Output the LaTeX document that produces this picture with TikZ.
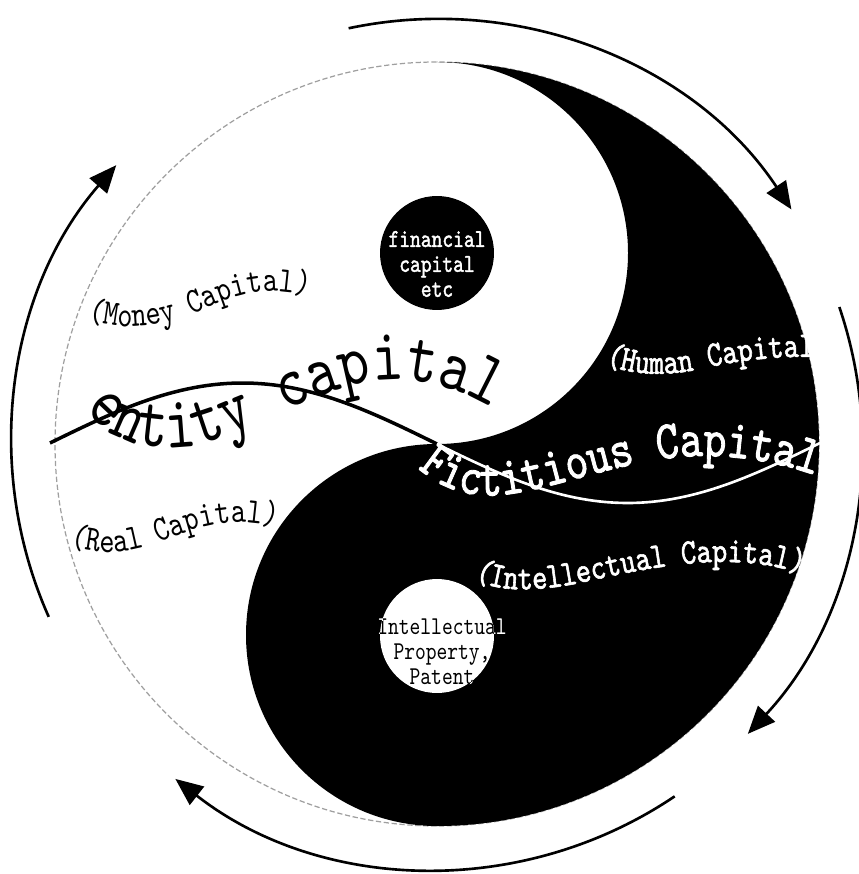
\documentclass[tikz,border=0pt]{standalone}
\usepackage{fontspec}
\usepackage{tikz}
\usetikzlibrary{arrows.meta, decorations.text}
\newfontfamily\capfont{lmmono10-regular}[Extension=.otf, FakeStretch=0.8, AutoFakeBold=1.6]
\newcommand{\capbig}{\capfont\fontsize{42.2}{46}\selectfont}
\newcommand{\capmid}{\capfont\bfseries\fontsize{30.9}{33}\selectfont}
\newcommand{\capsmall}{\capfont\fontsize{20.5}{22}\selectfont}
\newcommand{\capsmallbf}{\capfont\bfseries\fontsize{20.5}{22}\selectfont}
\newcommand{\capdot}{\capfont\fontsize{14.6}{14.2}\selectfont}

\begin{document}
\begin{tikzpicture}[
    x=0.02cm, y=-0.02cm,
    flow/.style={-{Triangle[length=0.55cm, width=0.46cm]}, line width=1.5pt},
    rim/.style={gray!75, line width=0.7pt, dash pattern=on 3pt off 1.5pt},
    wave/.style={line width=2pt},
    spot/.style={circle, minimum size=2.28cm, inner sep=0pt},
    dottext/.style={align=center, inner sep=0pt, font=\capdot}
    ]
    \useasboundingbox (0,0) rectangle (858,874);
    \coordinate (c) at (437,444);
    \coordinate (top) at (437,62);

    % yin and yang
    \draw[rim] (c) circle[radius=382];
    \fill (top) arc[start angle=-90, end angle=90, radius=382]
        arc[start angle=90, end angle=270, radius=191]
        arc[start angle=90, end angle=-90, radius=191] -- cycle;
    \node[spot, fill=black] (findot) at (437,253) {};
    \node[spot, fill=white] (ipdot) at (437,636) {};

    % wave through the middle
    \draw[wave] plot[domain=50:437, samples=60] (\x, {443-60*sin(0.46753*(\x-50))});
    \draw[wave, white, line width=1.5pt] plot[domain=437:822, samples=60] (\x, {443-60*sin(0.46753*(\x-50))});

    % arrows round the circle
    \draw[flow] ([shift={(-102:425)}]c) arc[start angle=-102, end angle=-33.5, radius=425];
    \draw[flow] ([shift={(-18.8:425)}]c) arc[start angle=-18.8, end angle=43, radius=425];
    \draw[flow] ([shift={(56:425)}]c) arc[start angle=56, end angle=128, radius=425];
    \draw[flow] ([shift={(-204:425)}]c) arc[start angle=-204, end angle=-139, radius=425];

    % curved labels
    \path[decorate, decoration={text along path,
        text={|\capsmall|(Money Capital)}}]
        (88,320) .. controls (140,336) and (180,320) .. (220,303) .. controls (255,289) and (285,288) .. (312,298);
    \path[decorate, decoration={text along path,
        text={|\capbig|entity capital}}]
        (85,410) .. controls (100,428) and (120,445) .. (160,447) .. controls (200,449) and (215,440) .. (245,428)
        .. controls (290,408) and (350,378) .. (400,380) .. controls (440,382) and (470,395) .. (495,410);
    \path[decorate, decoration={text along path,
        text={|\capsmall|(Real Capital)}}]
        (70,545) .. controls (100,557) and (130,553) .. (160,542) .. controls (195,528) and (235,515) .. (274,527);
    \path[decorate, decoration={text along path, text color=white,
        text={|\capsmallbf|(Human Capital}}]
        (605,364) .. controls (630,375) and (665,377) .. (700,369) .. controls (740,360) and (780,356) .. (815,357);
    \path[decorate, decoration={text along path, text color=white,
        text={|\capmid|Fictitious Capital}}]
        (418,468) .. controls (440,488) and (470,500) .. (510,494) .. controls (560,487) and (620,462) .. (680,457)
        .. controls (730,453) and (780,462) .. (820,477);
    \path[decorate, decoration={text along path, text color=white,
        text={|\capsmallbf|(Intellectual Capital)}}]
        (474,579) .. controls (495,591) and (530,593) .. (580,583) .. controls (630,572) and (680,561) .. (730,562)
        .. controls (760,563) and (780,567) .. (798,573);

    % texts in the two dots
    \node[dottext, text=white, font=\capdot\bfseries] (fin) at (437,264) {financial\\capital\\etc};
    \node[dottext, text=white] (ipout) at (442,652) {Intellectual\\Property,\\Patent};
    \begin{scope}
        \clip (ipdot.center) circle[radius=57];
        \node[dottext] (ipin) at (442,652) {Intellectual\\Property,\\Patent};
    \end{scope}
\end{tikzpicture}
\end{document}
